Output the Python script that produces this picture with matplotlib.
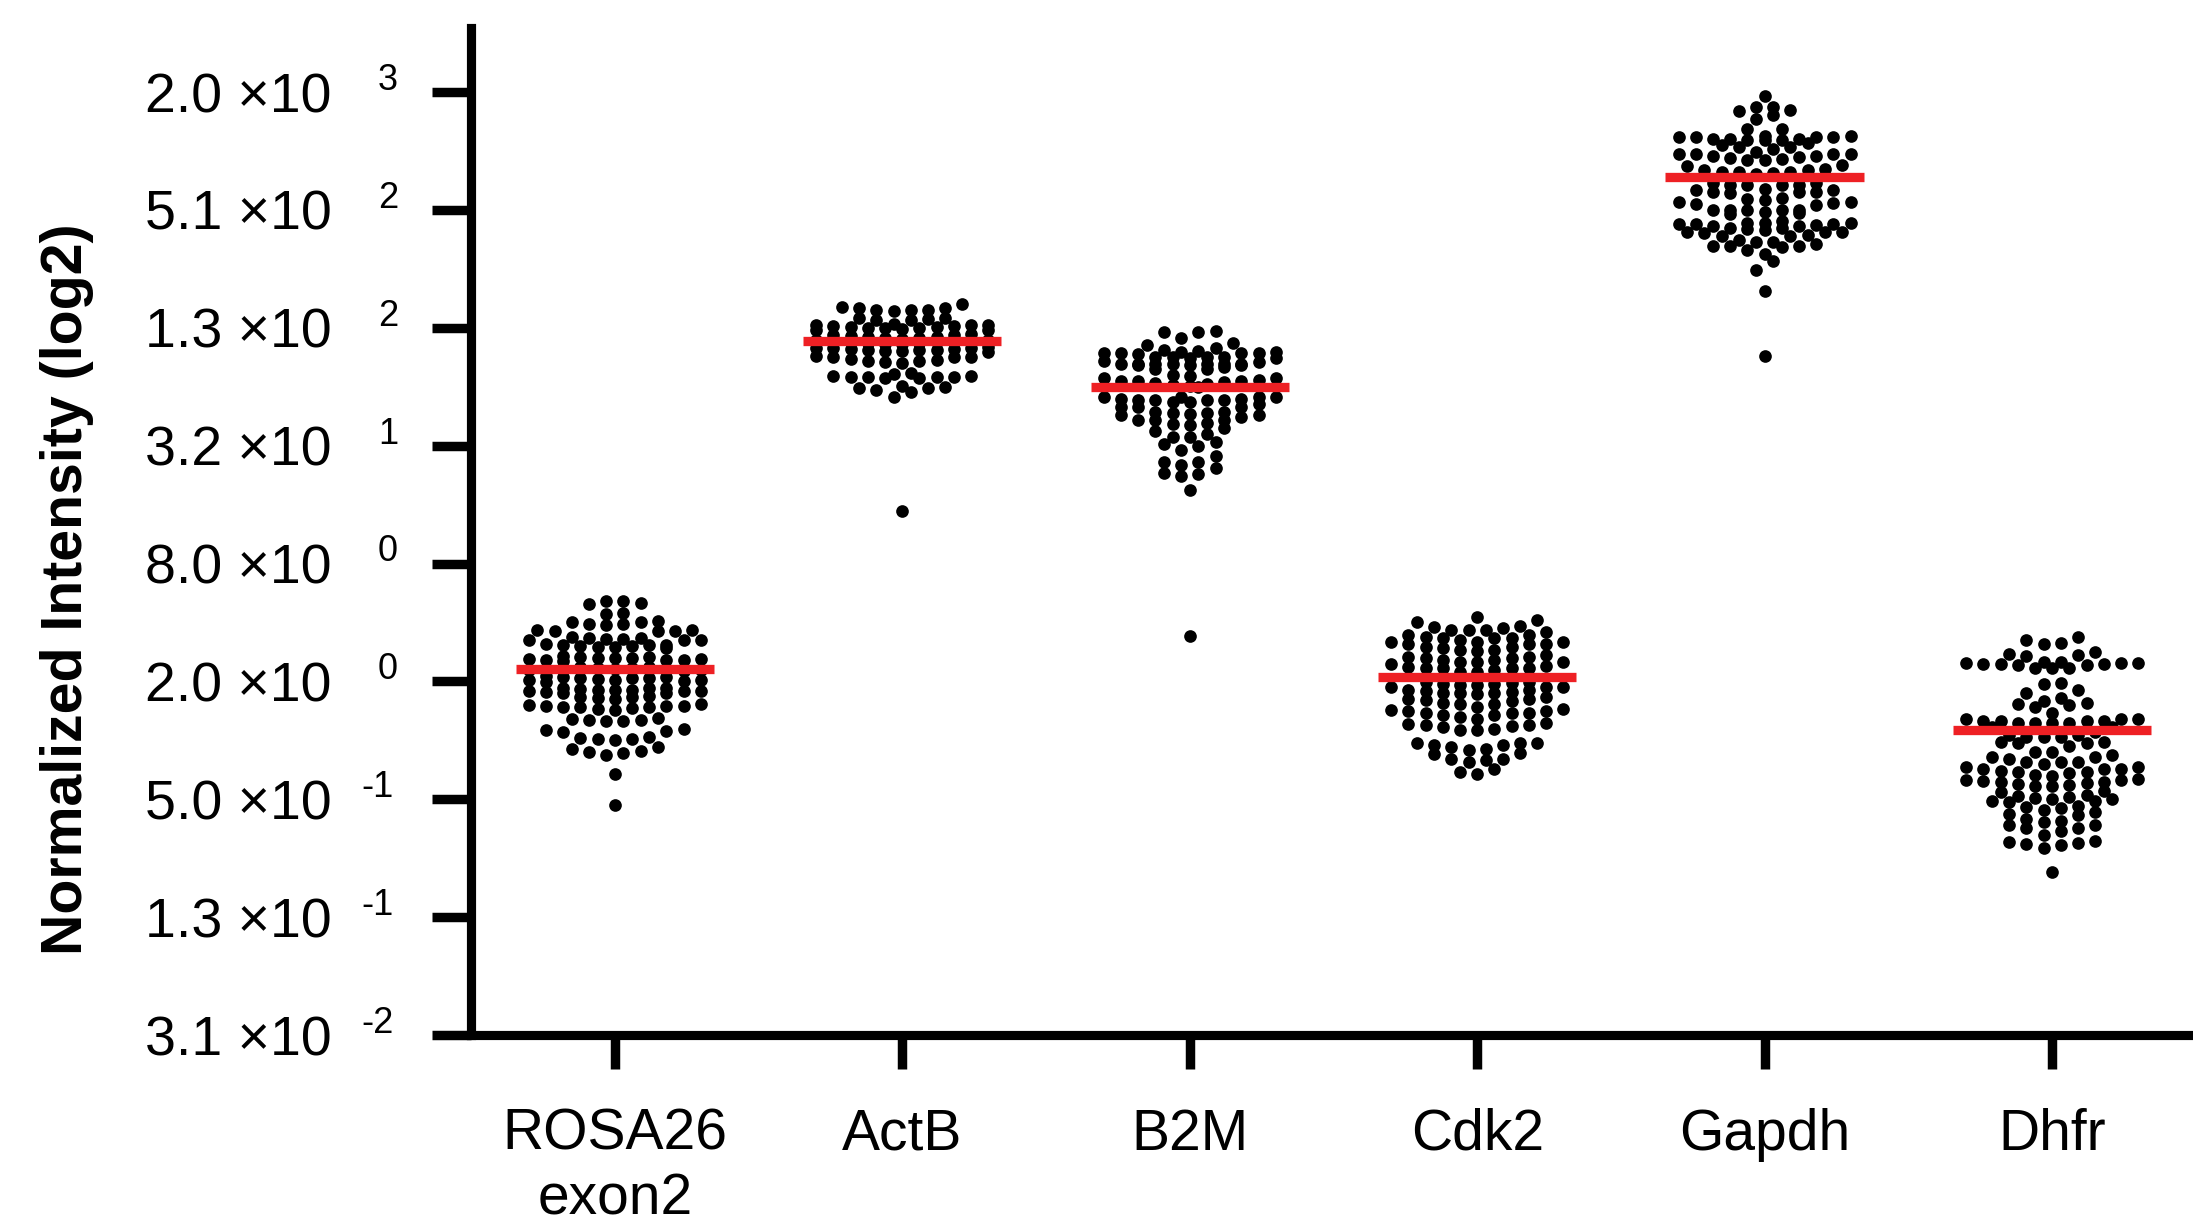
import numpy as np
import matplotlib
matplotlib.use("Agg")
import matplotlib.pyplot as plt

genes = ["ROSA26\nexon2", "ActB", "B2M", "Cdk2", "Gapdh", "Dhfr"]

# log2 normalized intensity per gene
rosa26 = [2.31, 2.33, 2.36, 2.36,
          2.15, 2.16,
          2.00, 2.01, 1.98, 1.96, 1.97, 2.02,
          1.88, 1.86, 1.85, 1.85, 1.87,
          1.74, 1.72, 1.71, 1.71, 1.72, 1.73, 1.70, 1.75,
          1.62, 1.61, 1.60, 1.62, 1.58, 1.59, 1.63, 1.60, 1.57,
          1.40, 1.42, 1.38, 1.36, 1.37, 1.39, 1.41, 1.43, 1.35, 1.38, 1.40, 1.36,
          1.22, 1.20, 1.24, 1.21, 1.19, 1.23, 1.25, 1.18,
          1.08, 1.02, 1.05, 1.04, 1.06, 1.03, 1.00, 1.07, 1.09, 1.05, 0.99, 1.02,
          0.88, 0.84, 0.86, 0.82, 0.87, 0.83, 0.85, 0.80, 0.86, 0.81, 0.88, 0.84, 0.89,
          0.74, 0.72, 0.70, 0.75, 0.73,
          0.55, 0.58, 0.56, 0.57, 0.60, 0.54, 0.59, 0.58, 0.52, 0.56, 0.61,
          0.33, 0.35, 0.36, 0.32, 0.38, 0.34,
          0.18, 0.16, 0.19, 0.15,
          0.02, 0.04, 0.01, 0.05, 0.03,
          -0.15, -0.20, -0.25, -0.22, -0.18, -0.12,
          -0.57, -1.09]

actb = [7.36, 7.34, 7.31, 7.28, 7.30, 7.31, 7.34, 7.40,
        7.15, 7.14, 7.13, 7.16, 7.17,
        7.05, 7.03, 7.00, 6.98, 7.02, 7.04, 6.99, 7.01, 7.06, 6.97, 7.03, 7.00, 7.05, 6.96,
        6.90, 6.88, 6.85, 6.86, 6.83, 6.82, 6.80, 6.81, 6.78, 6.79, 6.77, 6.76, 6.75, 6.74,
        6.78, 6.80, 6.84, 6.87, 6.73, 6.72,
        6.66, 6.64, 6.63, 6.62, 6.60, 6.61, 6.65, 6.64, 6.62, 6.59, 6.67, 6.66,
        6.52, 6.50, 6.47, 6.44, 6.42, 6.41, 6.44, 6.46, 6.50, 6.51,
        6.21, 6.18, 6.17, 6.16, 6.15, 6.15, 6.16, 6.17, 6.18, 6.23,
        5.98, 5.97, 5.91, 5.82, 5.94, 6.00, 6.02,
        3.89]

b2m = [6.94, 6.93, 6.93, 6.83,
       6.74, 6.71, 6.62, 6.59, 6.60, 6.65, 6.57, 6.57, 6.51, 6.56, 6.57, 6.58, 6.59,
       6.50, 6.48, 6.50, 6.48, 6.50, 6.38, 6.38, 6.36, 6.38, 6.38, 6.38, 6.38, 6.36,
       6.37, 6.38, 6.30, 6.30, 6.42, 6.44, 6.34,
       6.09, 6.06, 6.09, 6.12, 6.15, 6.18, 6.20, 6.03, 6.00, 6.05, 6.10, 6.14, 6.02, 6.08,
       5.83, 5.83, 5.80, 5.77, 5.77, 5.77, 5.77, 5.80, 5.83, 5.83, 5.74, 5.74, 5.66, 5.66,
       5.66, 5.70,
       5.57, 5.55, 5.48, 5.44, 5.44, 5.52, 5.55, 5.57, 5.52, 5.54,
       5.38, 5.37, 5.43, 5.35, 5.25, 5.20, 5.30,
       5.14, 5.07, 5.14, 5.03, 4.93, 5.00,
       4.82,
       4.72, 4.62, 4.48, 4.52, 4.53, 4.67, 4.72,
       4.25, 1.77]

cdk2 = [2.09, 2.00, 1.93, 1.94, 2.04,
        1.88, 1.87, 1.88, 1.90,
        1.74, 1.70, 1.67, 1.73, 1.74, 1.79, 1.76, 1.79, 1.83, 1.67,
        1.53, 1.53, 1.58, 1.67, 1.64, 1.59, 1.64, 1.64, 1.56, 1.52, 1.45,
        1.41, 1.39, 1.33, 1.33, 1.33, 1.36, 1.37, 1.39, 1.42, 1.29, 1.26, 1.22,
        1.22, 1.19, 1.16, 1.16, 1.22, 1.22, 1.25,
        0.99, 0.98, 0.96, 0.94, 0.91, 0.90, 0.91, 0.94, 0.96, 0.99, 0.86, 0.84, 0.86,
        0.81, 0.81, 0.81, 0.82, 0.71, 0.69, 0.71, 0.74, 0.79, 0.64, 0.61, 0.67,
        0.53, 0.50, 0.47, 0.46, 0.49, 0.52, 0.57, 0.61, 0.39, 0.37, 0.43, 0.43, 0.46,
        0.30, 0.26, 0.24, 0.20, 0.17, 0.17, 0.23, 0.26, 0.28,
        -0.04, -0.04, -0.08, -0.08, -0.04, -0.14, -0.21, -0.23, -0.16, -0.11,
        -0.32, -0.33, -0.36, -0.32, -0.48, -0.57, -0.53]

gapdh = [10.94,
         10.75, 10.70, 10.68, 10.75, 10.61, 10.55,
         10.37, 10.37, 10.25, 10.24, 10.23, 10.24, 10.24, 10.25, 10.21, 10.19, 10.18, 10.19,
         10.21, 10.21, 10.14, 10.10,
         10.06, 10.03, 10.07, 9.99, 9.95, 9.95, 9.94, 9.92, 9.89, 9.86, 9.85, 9.85, 9.88,
         9.91, 9.94,
         9.70, 9.68, 9.74, 9.76, 9.65, 9.61, 9.65, 9.65, 9.62, 9.68,
         9.31, 9.31, 9.42, 9.42, 9.42, 9.36, 9.34, 9.34, 9.42, 9.45, 9.45, 9.30, 9.28,
         9.08, 9.00, 9.21, 8.99, 9.17, 8.97, 9.14, 8.93, 9.10, 9.11, 8.95, 9.14, 8.99,
         9.19, 8.99, 9.00,
         8.77, 8.76, 8.74, 8.73, 8.82, 8.73, 8.76, 8.76, 8.77, 8.78, 8.70, 8.67, 8.69,
         8.63, 8.62, 8.56, 8.56, 8.58, 8.61, 8.63, 8.66,
         8.49, 8.45, 8.38, 8.38, 8.32, 8.37, 8.38, 8.42, 8.46, 8.26,
         8.13, 7.98, 7.63, 6.52]

dhfr = [1.75, 1.65, 1.63, 1.71,
        1.46, 1.43, 1.50, 1.44,
        1.32, 1.29, 1.29, 1.28, 1.22, 1.33, 1.22, 1.33, 1.22, 1.28, 1.29, 1.31, 1.32,
        0.97, 0.85, 0.95, 0.80,
        0.67, 0.62, 0.57, 0.72, 0.60, 0.64,
        0.37, 0.37, 0.47, 0.32, 0.37,
        0.32, 0.32, 0.29, 0.29, 0.29, 0.30, 0.32, 0.09, 0.05, 0.05, 0.05, 0.09, 0.15,
        0.22, 0.22,
        -0.03, -0.04, -0.09, -0.04, -0.02,
        -0.19, -0.28, -0.31, -0.28, -0.25, -0.19,
        -0.46, -0.37, -0.48, -0.40, -0.48, -0.37, -0.46, -0.37,
        -0.52, -0.54, -0.58, -0.65, -0.67, -0.71, -0.69, -0.71, -0.67, -0.61, -0.55,
        -0.54, -0.48, -0.72, -0.75, -0.78, -0.77, -0.74,
        -0.88, -0.94, -0.98, -0.96, -0.92, -0.86, -1.00, -1.03, -1.11, -1.03, -0.99, -1.05,
        -1.26, -1.36, -1.15, -1.21, -1.25, -1.18, -1.13, -1.38, -1.34,
        -1.44, -1.48, -1.53, -1.49, -1.44, -1.61,
        -1.71, -1.74, -1.78, -1.82, -1.75, -1.72,
        -2.23]

groups = [rosa26, actb, b2m, cdk2, gapdh, dhfr]
medians = [1.21, 6.78, 6.00, 1.08, 9.55, 0.18]

ytick_exp2 = [-5, -3, -1, 1, 3, 5, 7, 9, 11]
ytick_mant = ["3.1", "1.3", "5.0", "2.0", "8.0", "3.2", "1.3", "5.1", "2.0"]
ytick_pow10 = [-2, -1, -1, 0, 0, 1, 2, 2, 3]

plt.rcParams["font.family"] = ["Liberation Sans", "DejaVu Sans"]

fig = plt.figure(figsize=(21.93, 12.15), dpi=100)
ax = fig.add_axes([0.2148, 0.1481, 0.7852, 0.8288])
ax.set_yscale("log", base=2)
ax.set_ylim(2 ** -5, 2 ** 12.085)
ax.set_xlim(-0.5, 5.49)

DOT_S = 83       # marker area, pt^2
COL_PX = 17.2    # horizontal spacing of dots
ROW_PX = 11      # values closer than this share a row
MAX_COLS = 11


def swarm(vals, xc):
    # prism-like rows: sort, bin into rows, lowest value in the middle
    vals = np.asarray(vals, dtype=float)
    py = ax.transData.transform(np.column_stack([np.full(len(vals), xc), 2.0 ** vals]))[:, 1]
    order = np.argsort(py)
    rows, cur = [], []
    for i in order:
        if cur and (py[i] - py[cur[0]] > ROW_PX or len(cur) >= MAX_COLS):
            rows.append(cur)
            cur = []
        cur.append(i)
    rows.append(cur)
    px_per_x = ax.transData.transform((1, 1))[0] - ax.transData.transform((0, 1))[0]
    xs = np.full(len(vals), float(xc))
    for row in rows:
        n = len(row)
        slots = sorted(np.arange(n) - (n - 1) / 2, key=lambda s: (abs(s), s))
        for i, s in zip(row, slots):
            xs[i] = xc + s * COL_PX / px_per_x
    return xs, 2.0 ** vals


for i, vals in enumerate(groups):
    xs, ys = swarm(vals, i)
    ax.scatter(xs, ys, s=DOT_S, c="black", linewidths=0, zorder=3, clip_on=False)
    ax.hlines(2.0 ** medians[i], i - 0.345, i + 0.345, color="#EE2024", lw=6.7, zorder=4)

for side in ["top", "right"]:
    ax.spines[side].set_visible(False)
for side in ["left", "bottom"]:
    ax.spines[side].set_linewidth(6.6)

ax.set_yticks([2.0 ** e for e in ytick_exp2])
ax.yaxis.set_minor_locator(matplotlib.ticker.NullLocator())
# mantissa part as tick label, left aligned like the original
ax.set_yticklabels([f"{m} \u00d710" for m in ytick_mant], fontsize=40, ha="left")
ax.tick_params(axis="y", length=28, width=6.8, pad=207)
# exponents as separate raised text
ytrans = ax.get_yaxis_transform()
for e2, p in zip(ytick_exp2, ytick_pow10):
    xpos = -0.054 if p >= 0 else -0.0635
    ax.annotate(str(p), xy=(xpos, 2.0 ** e2), xycoords=ytrans, xytext=(0, 1.5),
                textcoords="offset points", fontsize=26, ha="left", va="baseline",
                annotation_clip=False)

ax.set_xticks(range(len(genes)))
ax.set_xticklabels(genes, fontsize=41, linespacing=1.26)
ax.tick_params(axis="x", length=24.5, width=6.8, pad=28)

yl = fig.text(67 / 2193, 1 - 589 / 1215, "Normalized Intensity (log2)", rotation=90,
              ha="center", va="center", fontsize=40, fontweight="bold")
fig.canvas.draw()
h = yl.get_window_extent().height
yl.set_fontsize(40 * 730 / h)

fig.savefig("out.png", dpi=100)
